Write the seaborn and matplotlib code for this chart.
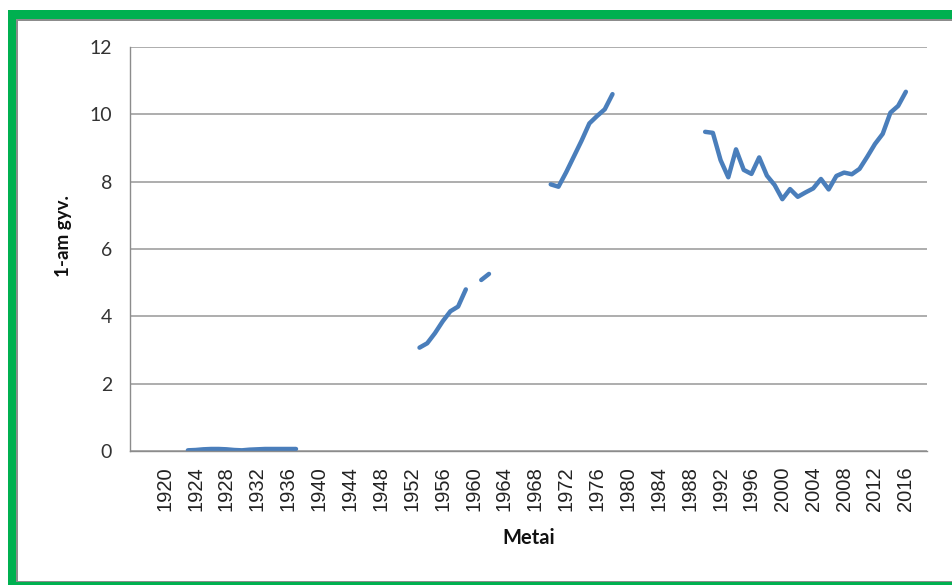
import numpy as np
import pandas as pd
import matplotlib
matplotlib.use('Agg')
import matplotlib.pyplot as plt
from matplotlib.patches import Rectangle
import seaborn as sns

# data, one list per unbroken stretch of the line
years_a = list(range(1923, 1938))
vals_a = [0.02, 0.03, 0.05, 0.06, 0.06, 0.05, 0.03, 0.02, 0.04, 0.05, 0.06, 0.06, 0.06, 0.06, 0.06]

years_b = list(range(1953, 1960))
vals_b = [3.07, 3.2, 3.5, 3.85, 4.15, 4.29, 4.8]

years_c = [1961, 1962]
vals_c = [5.08, 5.26]

years_d = list(range(1970, 1979))
vals_d = [7.92, 7.85, 8.28, 8.75, 9.22, 9.73, 9.95, 10.15, 10.6]

years_e = list(range(1990, 2017))
vals_e = [9.48, 9.45, 8.64, 8.13, 8.96, 8.35, 8.23, 8.72, 8.18, 7.9,
          7.48, 7.78, 7.55, 7.68, 7.8, 8.08, 7.77, 8.17, 8.27, 8.22,
          8.38, 8.74, 9.12, 9.42, 10.05, 10.25, 10.67]

x_ticks = list(range(1920, 2017, 4))
y_ticks = [0, 2, 4, 6, 8, 10, 12]

segments = [(years_a, vals_a), (years_b, vals_b), (years_c, vals_c),
            (years_d, vals_d), (years_e, vals_e)]
df = pd.concat([pd.DataFrame({'year': yrs, 'value': vals, 'seg': i})
                for i, (yrs, vals) in enumerate(segments)], ignore_index=True)

sns.set_style('white')
plt.rcParams['font.family'] = ['Lato', 'DejaVu Sans']

W, H = 952, 585
fig = plt.figure(figsize=(W / 100, H / 100), dpi=100)
ax = fig.add_axes([130 / W, 1 - 451 / H, (926.7 - 130) / W, (451 - 47) / H])

sns.lineplot(data=df, x='year', y='value', units='seg', estimator=None,
             color='#4a7ebb', lw=3.2, ax=ax, solid_capstyle='round')

ax.set_xlim(1915.5, 2018.7)
ax.set_ylim(0, 12)
ax.set_yticks(y_ticks)
ax.set_xticks(x_ticks)
ax.set_xticklabels([str(t) for t in x_ticks], rotation=90)
for lab in ax.get_xticklabels():
    lab.set_fontfamily(['Liberation Sans'])
    lab.set_fontsize(14.5)
    lab.set_color('#222222')
ax.tick_params(axis='x', length=0, pad=11)
ax.tick_params(axis='y', length=6, width=1, color='#8c8c8c', direction='out',
               pad=7, labelsize=14, labelcolor='#333333')
ax.yaxis.grid(True, color='#a0a0a0', lw=1.2)
ax.xaxis.grid(False)
for s in ['top', 'right']:
    ax.spines[s].set_visible(False)
for s in ['left', 'bottom']:
    ax.spines[s].set_color('#8c8c8c')
    ax.spines[s].set_linewidth(1)

ax.set_xlabel('Metai', fontsize=14.5, fontweight='bold', color='#111111')
ax.set_ylabel('1-am gyv.', fontsize=13.5, fontweight='bold', color='#111111')
ax.xaxis.set_label_coords(0.5, -0.215)
ax.xaxis.label.set_va('center')
ax.yaxis.set_label_coords(-0.084, 0.533)
ax.yaxis.label.set_va('center')

# green frame with a thin gray inner border
def px_rect(x0, y0, x1, y1, color):
    fig.add_artist(Rectangle((x0 / W, 1 - y1 / H), (x1 - x0) / W, (y1 - y0) / H,
                             transform=fig.transFigure, color=color, lw=0, zorder=10))

green = '#00b050'
gray = '#8c8c8c'
px_rect(8, 10, W, 19, green)
px_rect(8, 10, 16, H, green)
px_rect(8, 582, W, H, green)
px_rect(16, 19, W, 20.5, gray)
px_rect(16, 19, 17.5, 582, gray)
px_rect(16, 580.5, W, 582, gray)

fig.savefig('out.png', dpi=100)
